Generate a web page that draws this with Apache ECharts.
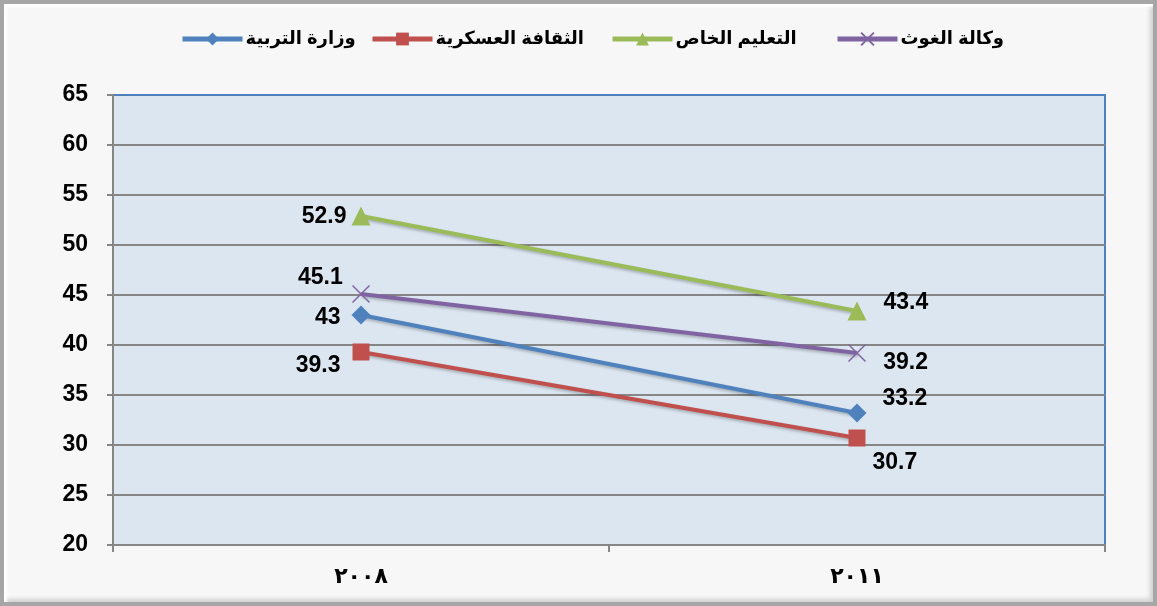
<!DOCTYPE html>
<html><head><meta charset="utf-8">
<script src="https://cdn.jsdelivr.net/npm/echarts@6/dist/echarts.min.js"></script>
<style>
html,body{margin:0;padding:0;background:#fff;}
#frame{position:absolute;left:0;top:0;width:1157px;height:606px;box-sizing:border-box;border:4px solid #a6a6a6;background:#f7f7f7;box-shadow:inset 3px 3px 3px #ffffff, inset -3px -3px 4px #d0d0d0;}
#c{position:absolute;left:0;top:0;width:1157px;height:606px;}
</style></head><body>
<div id="frame"></div>
<div id="c"></div>
<script>
const categories = ['٢٠٠٨', '٢٠١١'];
const seriesNames = ['وزارة التربية', 'الثقافة العسكرية', 'التعليم الخاص', 'وكالة الغوث'];
const ministry = [43, 33.2];
const military = [39.3, 30.7];
const privateEd = [52.9, 43.4];
const unrwa = [45.1, 39.2];
const yTicks = [20, 25, 30, 35, 40, 45, 50, 55, 60, 65];

const FONT = "'Liberation Sans','DejaVu Sans',Arial,sans-serif";
const colors = ['#4f81bd', '#c0504d', '#9bbb59', '#8064a2'];
const crossPath = 'path://M0,0L10,10M10,0L0,10';
const chart = echarts.init(document.getElementById('c'));
const lbl = (pos, off) => ({show: true, position: pos, offset: off, color: '#000', fontFamily: FONT, fontWeight: 'bold', fontSize: 23});
function mk(name, data, color, symbol, size, labels, extraItem) {
  return {
    name, type: 'line', data: data.map((v, i) => ({value: v, label: labels[i]})),
    symbol, symbolSize: size,
    lineStyle: {color, width: 4, shadowColor: 'rgba(0,0,0,0.25)', shadowBlur: 3, shadowOffsetX: 1, shadowOffsetY: 2},
    itemStyle: Object.assign({color}, extraItem || {}),
    label: {show: true}, z: 3
  };
}
const legendLefts = [180, 370, 610, 835];
const legends = seriesNames.map((n, i) => ({
  top: 30, left: legendLefts[i], padding: 0, itemWidth: 60, itemHeight: 16, itemGap: 4,
  textStyle: {fontFamily: FONT, fontWeight: 'bold', fontSize: 18, color: '#000', padding: [0, 0, 0, -2]},
  lineStyle: {width: 5, shadowBlur: 0, shadowOffsetX: 0, shadowOffsetY: 0},
  data: [n]
}));
chart.setOption({
  animation: false,
  color: colors,
  legend: legends,
  grid: {left: 113, right: 52, top: 95, bottom: 61, show: true, backgroundColor: '#dce6f1', borderColor: '#4f81bd', borderWidth: 2},
  xAxis: {
    type: 'category', data: categories, boundaryGap: true,
    axisLine: {lineStyle: {color: '#868686', width: 2}},
    axisTick: {show: true, length: 7, lineStyle: {color: '#868686', width: 2}},
    axisLabel: {margin: 21, color: '#000', fontFamily: FONT, fontWeight: 'bold', fontSize: 22}
  },
  yAxis: {
    type: 'value', min: yTicks[0], max: yTicks[yTicks.length - 1], interval: 5,
    axisLine: {show: true, lineStyle: {color: '#868686', width: 2}},
    axisTick: {show: true, length: 6, lineStyle: {color: '#868686', width: 2}},
    splitLine: {showMaxLine: false, lineStyle: {color: '#868686', width: 2}},
    axisLabel: {margin: 25, color: '#000', fontFamily: FONT, fontWeight: 'bold', fontSize: 23}
  },
  series: [
    mk(seriesNames[0], ministry, colors[0], 'diamond', 19, [lbl('left', [-6, 3]), lbl('right', [11, -14])]),
    mk(seriesNames[1], military, colors[1], 'rect', 17, [lbl('left', [-7, 14]), lbl('right', [2, 25])]),
    mk(seriesNames[2], privateEd, colors[2], 'triangle', 19, [lbl('left', [0, 1]), lbl('right', [12, -8])]),
    mk(seriesNames[3], unrwa, colors[3], crossPath, 17,
      [lbl('left', [-4, -16]), lbl('right', [12, 10])], {borderColor: colors[3], borderWidth: 1.5})
  ]
});
</script>
</body></html>
